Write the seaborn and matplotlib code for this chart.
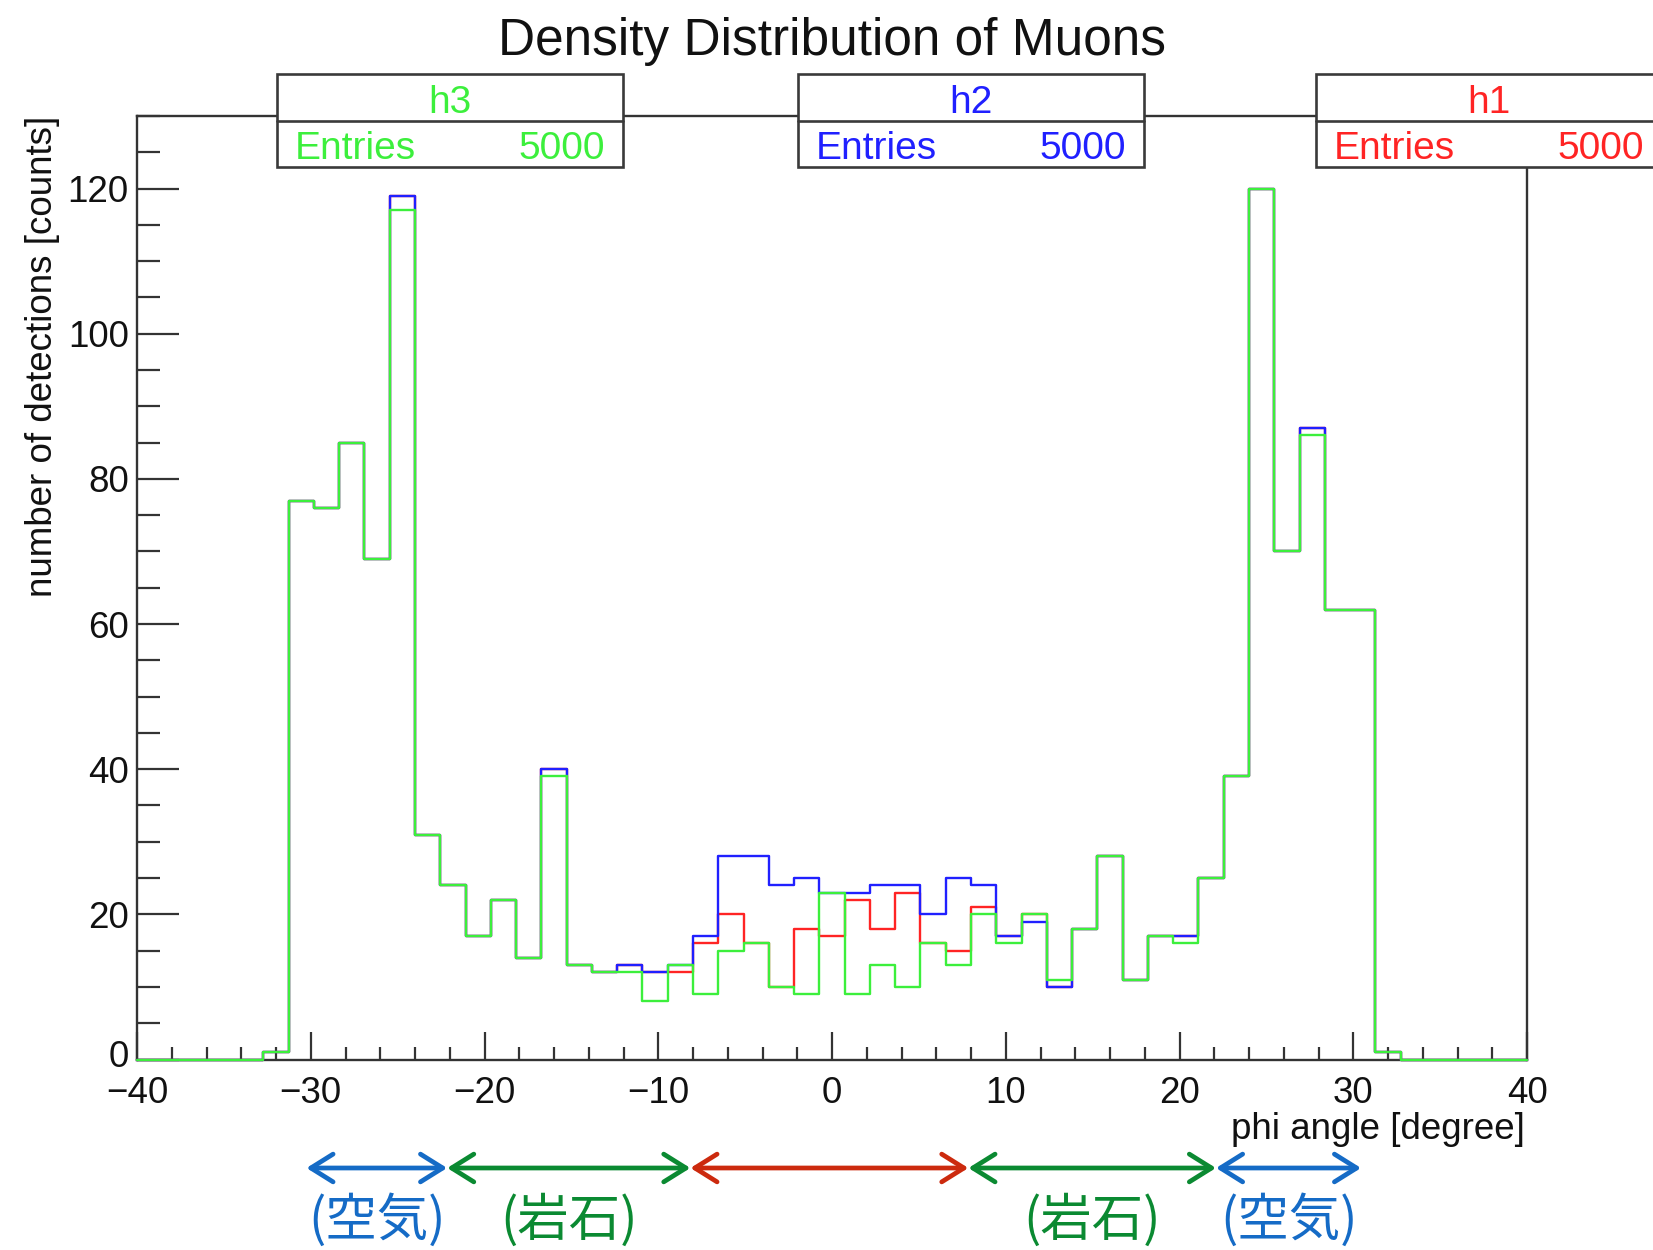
import numpy as np
import pandas as pd
import matplotlib
matplotlib.use("Agg")
import matplotlib.pyplot as plt
from matplotlib import transforms
from matplotlib.patches import Rectangle
from matplotlib.ticker import MultipleLocator
import seaborn as sns

# Histogram binning: 55 bins over [-40, 40] degrees
n_bins = 55
phi_min, phi_max = -40.0, 40.0

# Bin contents per histogram
h1_counts = [0, 0, 0, 0, 0, 1, 77, 76, 85, 69,
             119, 31, 24, 17, 22, 14, 40, 13, 12, 13,
             12, 12, 16, 20, 16, 10, 18, 17, 22, 18,
             23, 16, 15, 21, 17, 20, 10, 18, 28, 11,
             17, 17, 25, 39, 120, 70, 87, 62, 62, 1,
             0, 0, 0, 0, 0]
h2_counts = [0, 0, 0, 0, 0, 1, 77, 76, 85, 69,
             119, 31, 24, 17, 22, 14, 40, 13, 12, 13,
             12, 13, 17, 28, 28, 24, 25, 23, 23, 24,
             24, 20, 25, 24, 17, 19, 10, 18, 28, 11,
             17, 17, 25, 39, 120, 70, 87, 62, 62, 1,
             0, 0, 0, 0, 0]
h3_counts = [0, 0, 0, 0, 0, 1, 77, 76, 85, 69,
             117, 31, 24, 17, 22, 14, 39, 13, 12, 12,
             8, 13, 9, 15, 16, 10, 9, 23, 9, 13,
             10, 16, 13, 20, 16, 20, 11, 18, 28, 11,
             17, 16, 25, 39, 120, 70, 86, 62, 62, 1,
             0, 0, 0, 0, 0]

hist_names = ["h1", "h2", "h3"]
hist_colors = ["#ff2424", "#2020ff", "#3cef3c"]
entries = [5000, 5000, 5000]

# Region markers below the axis (phi boundaries) and their labels
region_bounds = [-30.25, -22.15, -8.15, 7.85, 22.1, 30.45]
region_colors = ["#156bc6", "#0b8a32", "#cc2a0e", "#0b8a32", "#156bc6"]
region_labels = ["(空気)", "(岩石)", "", "(岩石)", "(空気)"]

W, H = 1653, 1250
sns.set_theme(style="ticks")
plt.rcParams["font.family"] = ["Liberation Sans", "DejaVu Sans"]
plt.rcParams["axes.unicode_minus"] = True

fig = plt.figure(figsize=(W / 100, H / 100), dpi=100)
fig.patch.set_facecolor("white")


def fx(px):
    return px / W


def fy(py):
    return 1 - py / H


ax_l, ax_r, ax_t, ax_b = 137, 1527, 116, 1059.5
ax = fig.add_axes([fx(ax_l), fy(ax_b), fx(ax_r - ax_l), (ax_b - ax_t) / H])
ax.set_facecolor("white")

edges = np.linspace(phi_min, phi_max, n_bins + 1)
centers = 0.5 * (edges[:-1] + edges[1:])

for i, (name, counts, color) in enumerate(zip(hist_names,
                                             [h1_counts, h2_counts, h3_counts],
                                             hist_colors)):
    df = pd.DataFrame({"phi": centers, "count": np.asarray(counts, float)})
    sns.histplot(data=df, x="phi", weights="count", bins=list(edges),
                 element="step", fill=False, color=color, linewidth=1.7,
                 ax=ax, zorder=3 + i, clip_on=False)

ax.set_xlim(phi_min, phi_max)
ax.set_ylim(0, 130)
ax.set_xlabel("")
ax.set_ylabel("")

frame_color = "#333333"
for side in ["left", "bottom", "top", "right"]:
    ax.spines[side].set_visible(True)
    ax.spines[side].set_color(frame_color)
    ax.spines[side].set_linewidth(1.7)
    ax.spines[side].set_zorder(2)

ax.xaxis.set_major_locator(MultipleLocator(10))
ax.xaxis.set_minor_locator(MultipleLocator(2))
ax.yaxis.set_major_locator(MultipleLocator(20))
ax.yaxis.set_minor_locator(MultipleLocator(5))
ax.tick_params(axis="x", which="major", direction="in", length=20, width=1.6,
               color=frame_color, labelsize=26.5, pad=12, top=False)
ax.tick_params(axis="x", which="minor", direction="in", length=9.5, width=1.6,
               color=frame_color, top=False)
ax.tick_params(axis="y", which="major", direction="in", length=30, width=1.6,
               color=frame_color, labelsize=26.5, pad=6, right=False)
ax.tick_params(axis="y", which="minor", direction="in", length=16.5, width=1.6,
               color=frame_color, right=False)

# Title and axis titles
fig.text(fx(832), fy(55), "Density Distribution of Muons", ha="center",
         va="baseline", fontsize=37, color="#111111")
fig.text(fx(43), fy(116), "number of detections [counts]", rotation=90,
         ha="center", va="top", fontsize=26.5, color="#111111")
fig.text(fx(1525), fy(1139), "phi angle [degree]", ha="right",
         va="baseline", fontsize=26.5, color="#111111")

# Statistics boxes
box_lefts = {"h3": 277, "h2": 798, "h1": 1316}
box_w = 346
box_top, box_mid, box_bot = 74, 121, 167
for name, color, n in zip(hist_names, hist_colors, entries):
    x0 = box_lefts[name]
    rect = Rectangle((fx(x0), fy(box_bot)), fx(box_w), (box_bot - box_top) / H,
                     transform=fig.transFigure, facecolor="white",
                     edgecolor="#3a3a3a", linewidth=1.9, zorder=10)
    fig.add_artist(rect)
    fig.add_artist(plt.Line2D([fx(x0), fx(x0 + box_w)], [fy(box_mid)] * 2,
                              transform=fig.transFigure, color="#3a3a3a",
                              linewidth=1.9, zorder=11))
    fig.text(fx(x0 + box_w / 2), fy(103), name, ha="center", va="center",
             fontsize=28, color=color, zorder=12)
    fig.text(fx(x0 + 18), fy(149), "Entries", ha="left", va="center",
             fontsize=28, color=color, zorder=12)
    fig.text(fx(x0 + box_w - 18), fy(149), f"{n}", ha="right", va="center",
             fontsize=28, color=color, zorder=12)

# Region arrows and labels beneath the axis
trans = transforms.blended_transform_factory(ax.transData, fig.transFigure)
arrow_y = fy(1168)
for i, color in enumerate(region_colors):
    xa, xb = region_bounds[i], region_bounds[i + 1]
    ax.annotate("", xy=(xb, arrow_y), xytext=(xa, arrow_y),
                xycoords=trans, textcoords=trans, annotation_clip=False,
                arrowprops=dict(arrowstyle="<->,head_length=16,head_width=10",
                                color=color, lw=3.4, shrinkA=0, shrinkB=0,
                                mutation_scale=1),
                zorder=20 + i)
    if region_labels[i]:
        ax.text(0.5 * (xa + xb), fy(1248), region_labels[i], transform=trans,
                ha="center", va="bottom", fontsize=37, color=color,
                family=["Noto Sans CJK JP", "DejaVu Sans"], clip_on=False)

# Finalise tick labels after a first layout pass
fig.canvas.draw()
for lab in ax.get_xticklabels() + ax.get_yticklabels():
    lab.set_color("#111111")
for tick in ax.yaxis.get_major_ticks():
    if abs(tick.get_loc()) < 1e-9:
        lab = tick.label1
        lab.set_transform(lab.get_transform()
                          + transforms.ScaledTranslation(0, 6 / 100,
                                                         fig.dpi_scale_trans))

fig.savefig("out.png", dpi=100, facecolor="white")
